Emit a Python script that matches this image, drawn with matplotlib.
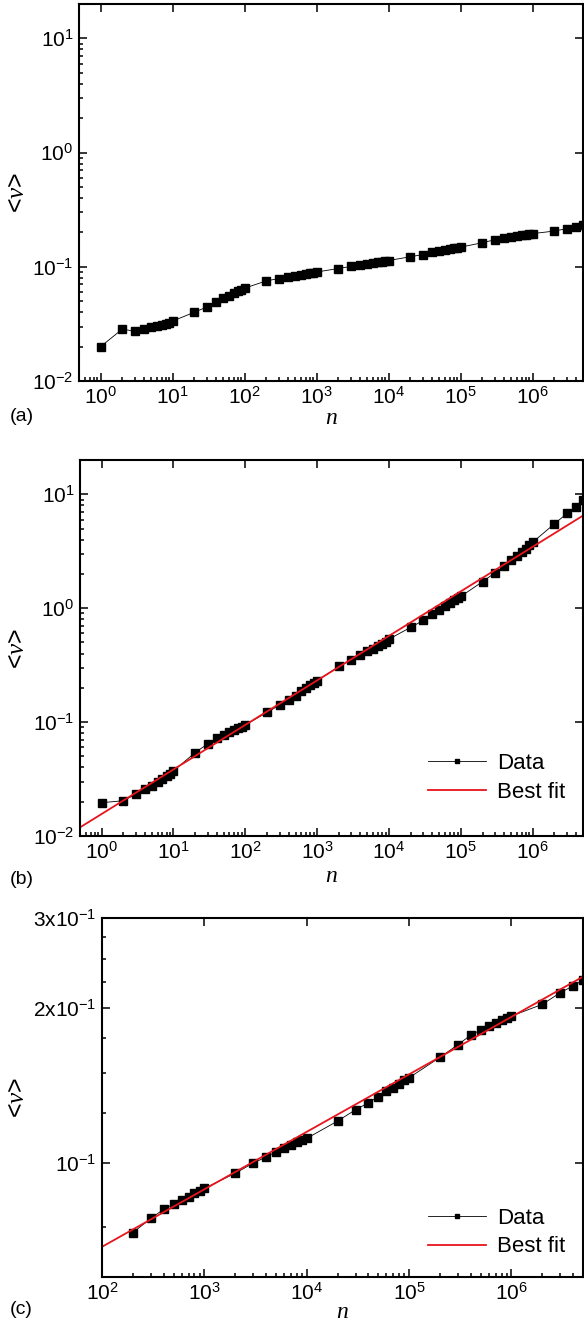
import numpy as np
import matplotlib.pyplot as plt
from matplotlib.ticker import LogLocator, FixedLocator, NullFormatter

plt.rcParams['font.family'] = ['Liberation Sans', 'DejaVu Sans']
plt.rcParams['mathtext.fontset'] = 'custom'
plt.rcParams['mathtext.rm'] = 'Liberation Sans'
plt.rcParams['mathtext.it'] = 'Liberation Serif:italic'
plt.rcParams['axes.unicode_minus'] = False

# n values for panels (a) and (b)
n_ab = [1, 2, 3, 4, 5, 6, 7, 8, 9,
        10, 20, 30, 40, 50, 60, 70, 80, 90,
        100, 200, 300, 400, 500, 600, 700, 800, 900,
        1e3, 2e3, 3e3, 4e3, 5e3, 6e3, 7e3, 8e3, 9e3,
        1e4, 2e4, 3e4, 4e4, 5e4, 6e4, 7e4, 8e4, 9e4,
        1e5, 2e5, 3e5, 4e5, 5e5, 6e5, 7e5, 8e5, 9e5,
        1e6, 2e6, 3e6, 4e6, 5e6]

v_a = [0.0200, 0.0285, 0.0272, 0.0288, 0.0297, 0.0302, 0.0308, 0.0316, 0.0325,
       0.0335, 0.0400, 0.0445, 0.0495, 0.0530, 0.0560, 0.0590, 0.0610, 0.0630,
       0.0650, 0.0753, 0.0789, 0.0812, 0.0828, 0.0845, 0.0860, 0.0874, 0.0887,
       0.0900, 0.0966, 0.1007, 0.1045, 0.1065, 0.1080, 0.1095, 0.1108, 0.1120,
       0.1135, 0.1225, 0.1280, 0.1340, 0.1375, 0.1400, 0.1425, 0.1448, 0.1468,
       0.1486, 0.1625, 0.1726, 0.1800, 0.1840, 0.1868, 0.1893, 0.1915, 0.1935,
       0.1952, 0.2056, 0.2160, 0.2250, 0.2300]

v_b = [0.0196, 0.0204, 0.0233, 0.0258, 0.0277, 0.0297, 0.0315, 0.0333, 0.0351,
       0.0373, 0.0540, 0.0645, 0.0723, 0.0773, 0.0817, 0.0855, 0.0885, 0.0914,
       0.0946, 0.1215, 0.141, 0.157, 0.171, 0.186, 0.199, 0.210, 0.220,
       0.231, 0.308, 0.353, 0.391, 0.418, 0.439, 0.463, 0.485, 0.508,
       0.535, 0.680, 0.780, 0.891, 0.972, 1.04, 1.11, 1.17, 1.22,
       1.27, 1.71, 2.05, 2.34, 2.63, 2.87, 3.11, 3.33, 3.58,
       3.80, 5.5, 6.8, 7.8, 9.0]

# best fit line ends, panel (b)
fit_n_b = [0.5, 5e6]
fit_v_b = [0.0119, 6.5]

# panel (c)
n_c = [200, 300, 400, 500, 600, 700, 800, 900,
       1e3, 2e3, 3e3, 4e3, 5e3, 6e3, 7e3, 8e3, 9e3,
       1e4, 2e4, 3e4, 4e4, 5e4, 6e4, 7e4, 8e4, 9e4,
       1e5, 2e5, 3e5, 4e5, 5e5, 6e5, 7e5, 8e5, 9e5,
       1e6, 2e6, 3e6, 4e6, 5e6]
v_c = [0.0732, 0.0780, 0.0813, 0.0832, 0.0848, 0.0860, 0.0873, 0.0882,
       0.0893, 0.0955, 0.1000, 0.1027, 0.1052, 0.1068, 0.1084, 0.1097, 0.1109,
       0.1117, 0.1207, 0.1270, 0.1310, 0.1347, 0.1380, 0.1400, 0.1428, 0.1450,
       0.1466, 0.1606, 0.1700, 0.1774, 0.1816, 0.1849, 0.1876, 0.1900, 0.1914,
       0.1933, 0.2037, 0.2146, 0.2213, 0.2270]
fit_n_c = [100, 5e6]
fit_v_c = [0.0687, 0.2306]

ab_xticks = [1, 10, 100, 1e3, 1e4, 1e5, 1e6]
ab_yticks = [0.01, 0.1, 1, 10]
c_xticks = [100, 1e3, 1e4, 1e5, 1e6]
c_ticks = [0.1, 0.2, 0.3]
c_tick_labels = ['$10^{-1}$', '2x$10^{-1}$', '3x$10^{-1}$']
c_minor = [0.075, 0.125, 0.15, 0.175, 0.225, 0.25, 0.275]

W, H = 584, 1323
fig = plt.figure(figsize=(W / 100, H / 100), dpi=100)


def make_axes(l, t, r, b, xticks):
    ax = fig.add_axes([l / W, 1 - b / H, (r - l) / W, (b - t) / H])
    ax.set_xscale('log')
    ax.set_yscale('log')
    for s in ax.spines.values():
        s.set_linewidth(1.5)
    ax.tick_params(which='both', direction='in', labelsize=15, pad=4, width=1.1)
    ax.tick_params(which='major', length=6, top=True, right=True)
    ax.tick_params(which='minor', length=3, top=False, right=False)
    ax.xaxis.set_major_locator(FixedLocator(xticks))
    ax.xaxis.set_minor_locator(LogLocator(base=10, subs=np.arange(2, 10), numticks=100))
    ax.xaxis.set_minor_formatter(NullFormatter())
    ax.set_xticklabels(['$10^{%d}$' % round(np.log10(x)) for x in xticks])
    ax.set_xlabel('$\\mathit{n}$', fontsize=17)
    ax.set_ylabel('<$\\mathit{v}$>', fontsize=18)
    ax.xaxis.label.set_va('center')
    ax.yaxis.label.set_va('center')
    return ax


def place_labels(ax, l, t, r, b, n_y):
    ax.xaxis.set_label_coords(0.5, (b - n_y) / (b - t))
    ax.yaxis.set_label_coords((17 - l) / (r - l), 0.5)


def log_y(ax):
    ax.set_ylim(0.01, 20)
    ax.yaxis.set_major_locator(FixedLocator(ab_yticks))
    ax.set_yticklabels(['$10^{%d}$' % round(np.log10(y)) for y in ab_yticks])
    ax.yaxis.set_minor_locator(LogLocator(base=10, subs=np.arange(2, 10), numticks=100))
    ax.yaxis.set_minor_formatter(NullFormatter())


def data_line(ax, n, v):
    ax.plot(n, v, color='black', lw=0.6, marker='s', ms=6, mec='black', mfc='black', label='Data')


leg_kw = dict(frameon=False, fontsize=16, handlelength=2.6, markerscale=0.6,
              labelspacing=0.35, handletextpad=0.5, borderaxespad=0)

# (a)
axa = make_axes(79, 4, 583, 381, ab_xticks)
log_y(axa)
axa.set_xlim(0.5, 5e6)
data_line(axa, n_ab, v_a)
place_labels(axa, 79, 4, 583, 381, 418)
fig.text(10 / W, 1 - 416 / H, '(a)', fontsize=14, va='center', ha='left')

# (b)
axb = make_axes(80, 460, 583, 836, ab_xticks)
log_y(axb)
axb.set_xlim(0.5, 5e6)
data_line(axb, n_ab, v_b)
axb.plot(fit_n_b, fit_v_b, color='#e8141c', lw=1.3, label='Best fit')
place_labels(axb, 80, 460, 583, 836, 876)
axb.legend(loc='lower right', bbox_to_anchor=(0.982, 0.064), **leg_kw)
fig.text(10 / W, 1 - 879 / H, '(b)', fontsize=14, va='center', ha='left')

# (c)
axc = make_axes(102, 918, 583, 1277, c_xticks)
axc.set_xlim(100, 5e6)
axc.set_ylim(0.06, 0.3)
axc.yaxis.set_major_locator(FixedLocator(c_ticks))
axc.set_yticklabels(c_tick_labels)
axc.yaxis.set_minor_locator(FixedLocator(c_minor))
axc.yaxis.set_minor_formatter(NullFormatter())
data_line(axc, n_c, v_c)
axc.plot(fit_n_c, fit_v_c, color='#e8141c', lw=1.3, label='Best fit')
place_labels(axc, 102, 918, 583, 1277, 1312)
axc.legend(loc='lower right', bbox_to_anchor=(0.982, 0.03), **leg_kw)
fig.text(10 / W, 1 - 1309 / H, '(c)', fontsize=14, va='center', ha='left')

fig.savefig('out.png', dpi=100)
